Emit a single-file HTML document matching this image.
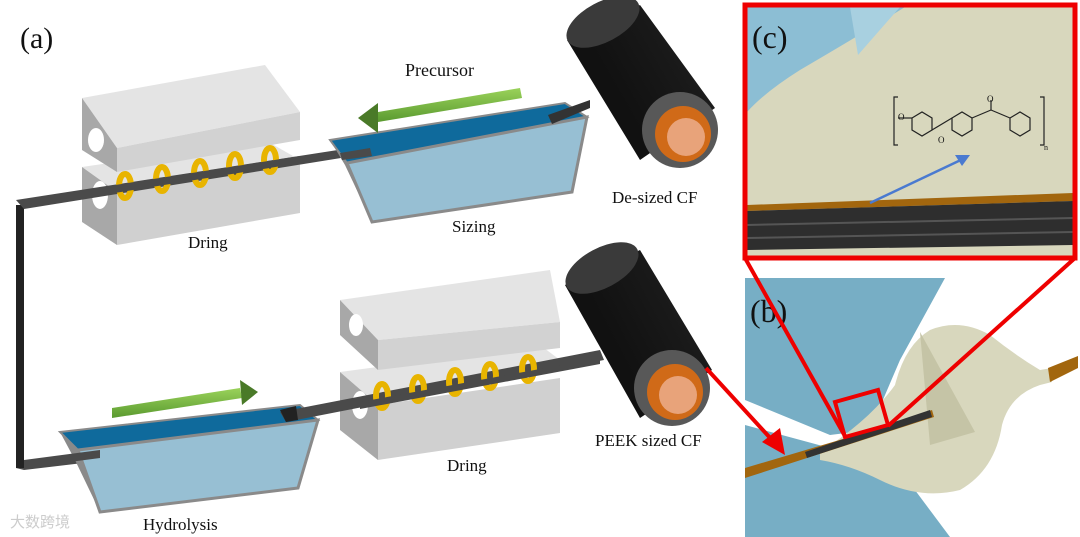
<!DOCTYPE html>
<html><head><meta charset="utf-8"><style>
body{margin:0;background:#fff}
svg{display:block}
text{font-family:"Liberation Serif",serif;fill:#111}
</style></head><body>
<svg width="1080" height="537" viewBox="0 0 1080 537" xmlns="http://www.w3.org/2000/svg">
<defs>
<linearGradient id="cyl" x1="0" y1="0" x2="1" y2="-0.6">
<stop offset="0" stop-color="#111"/><stop offset="0.4" stop-color="#1a1a1a"/><stop offset="0.75" stop-color="#3a3a3a"/><stop offset="1" stop-color="#666"/></linearGradient>
<linearGradient id="grn" x1="0" y1="0" x2="0" y2="1"><stop offset="0" stop-color="#9ad25a"/><stop offset="1" stop-color="#5a9a30"/></linearGradient>
</defs>
<text x="20" y="48" font-size="30">(a)</text>

<!-- top fiber path -->
<polygon points="16,468 100,453 100,461 24,470" fill="#4a4a4a"/>
<rect x="16" y="205" width="8" height="263" fill="#222"/>

<!-- top dring: bottom block -->
<polygon points="82,167 265,140 300,160 117,192" fill="#e4e4e4"/>
<polygon points="82,167 117,192 117,245 82,222" fill="#a8a8a8"/>
<polygon points="117,192 300,160 300,213 117,245" fill="#d0d0d0"/>
<ellipse cx="100" cy="195" rx="8" ry="14" fill="#fff"/>
<!-- fiber -->
<polygon points="16,200 370,145 372,153 24,209" fill="#4a4a4a"/>
<!-- top block -->
<polygon points="82,98 265,65 300,112 117,148" fill="#e4e4e4"/>
<polygon points="82,98 117,148 117,172 82,150" fill="#a8a8a8"/>
<ellipse cx="96" cy="140" rx="8" ry="12" fill="#fff"/>
<polygon points="117,148 300,112 300,140 117,172" fill="#d2d2d2"/>
<g fill="none" stroke="#e8b400" stroke-width="6">
<ellipse cx="125" cy="186" rx="6" ry="12"/><ellipse cx="162" cy="179" rx="6" ry="12"/><ellipse cx="200" cy="173" rx="6" ry="12"/><ellipse cx="235" cy="166" rx="6" ry="12"/><ellipse cx="270" cy="160" rx="6" ry="12"/></g>
<polygon points="90,189 300,156 300,163 90,197" fill="#4a4a4a"/>

<!-- sizing tank -->
<polygon points="330,140 565,103 587,117 347,163" fill="#0f6a9c" stroke="#8a8a8a" stroke-width="2"/>
<polygon points="330,140 347,163 372,222 345,165" fill="#8a8a8a"/>
<polygon points="347,163 587,117 572,192 372,222" fill="#97bfd3" stroke="#8a8a8a" stroke-width="3"/>
<polygon points="340,153 370,148 372,156 342,160" fill="#4a4a4a"/>
<polygon points="548,115 590,100 590,108 552,124" fill="#333"/>
<!-- top roller -->
<polygon points="567,40 640,5 715,108 640,160" fill="url(#cyl)"/>
<ellipse cx="603" cy="22" rx="40" ry="20" transform="rotate(-28 603 22)" fill="#3a3a3a"/>
<circle cx="680" cy="130" r="38" fill="#585858"/>
<circle cx="683" cy="134" r="28" fill="#d06a18"/>
<circle cx="686" cy="137" r="19" fill="#e8a37a"/>
<polygon points="378,112 520,88 522,98 378,122" fill="url(#grn)"/>
<polygon points="378,103 358,118 378,133" fill="#4a7a28"/>
<text x="405" y="76" font-size="18">Precursor</text>
<text x="612" y="203" font-size="17">De-sized CF</text>
<text x="188" y="248" font-size="17">Dring</text>
<text x="452" y="232" font-size="17">Sizing</text>

<!-- hydrolysis tank -->
<polygon points="60,432 300,405 318,420 78,450" fill="#0f6a9c" stroke="#8a8a8a" stroke-width="2"/>
<polygon points="78,450 318,420 298,488 100,512" fill="#97bfd3" stroke="#8a8a8a" stroke-width="3"/>
<polygon points="60,432 78,450 100,512 75,460" fill="#8a8a8a"/>
<polygon points="24,460 100,450 100,458 24,468" fill="#4a4a4a"/>
<polygon points="112,408 240,388 242,398 112,418" fill="url(#grn)"/>
<polygon points="240,380 258,392 242,405" fill="#4a7a28"/>
<text x="143" y="530" font-size="17">Hydrolysis</text>
<text x="10" y="527" font-size="15" style="fill:#ccc">大数跨境</text>

<!-- bottom dring -->
<polygon points="340,372 540,345 560,360 378,405" fill="#e4e4e4"/>
<polygon points="340,372 378,405 378,460 340,430" fill="#a8a8a8"/>
<ellipse cx="360" cy="405" rx="8" ry="14" fill="#fff"/>
<polygon points="378,405 560,378 560,433 378,460" fill="#d0d0d0"/>
<polygon points="280,412 600,350 604,360 286,422" fill="#4a4a4a"/>
<polygon points="280,410 296,406 298,420 286,422" fill="#222"/>
<polygon points="340,300 550,270 560,322 378,340" fill="#e4e4e4"/>
<polygon points="340,300 378,340 378,370 340,335" fill="#a8a8a8"/>
<ellipse cx="356" cy="325" rx="7" ry="11" fill="#fff"/>
<polygon points="378,340 560,322 560,348 378,370" fill="#d2d2d2"/>
<g fill="none" stroke="#e8b400" stroke-width="6">
<ellipse cx="382" cy="396" rx="6" ry="12"/><ellipse cx="418" cy="389" rx="6" ry="12"/><ellipse cx="455" cy="382" rx="6" ry="12"/><ellipse cx="490" cy="376" rx="6" ry="12"/><ellipse cx="528" cy="369" rx="6" ry="12"/></g>
<polygon points="360,402 600,358 600,364 360,409" fill="#4a4a4a"/>
<polygon points="565,285 640,250 712,370 640,418" fill="url(#cyl)"/>
<ellipse cx="602" cy="268" rx="40" ry="20" transform="rotate(-28 602 268)" fill="#3a3a3a"/>
<circle cx="672" cy="388" r="38" fill="#585858"/>
<circle cx="675" cy="392" r="28" fill="#d06a18"/>
<circle cx="678" cy="395" r="19" fill="#e8a37a"/>
<text x="595" y="446" font-size="17">PEEK sized CF</text>
<text x="447" y="471" font-size="17">Dring</text>

<!-- (b) panel -->
<rect x="745" y="278" width="335" height="259" fill="#fff"/>
<polygon points="745,278 945,278 900,360 870,430 830,435 745,400" fill="#77aec5"/>
<polygon points="745,425 830,448 900,470 950,537 745,537" fill="#77aec5"/>
<path d="M820,452 Q870,420 895,385 Q905,345 930,330 Q960,318 990,335 Q1015,355 1040,370 L1052,368 L1052,382 L1040,385 Q1010,395 1002,425 Q995,470 960,490 Q920,500 880,480 Q850,465 820,460 Z" fill="#d8d7bd"/>
<polygon points="920,332 930,445 975,432" fill="#c5c4a6"/>
<polygon points="745,468 900,422 932,410 934,417 745,478" fill="#a2660e"/>
<polygon points="805,452 930,410 932,417 807,458" fill="#333"/>
<polygon points="1048,368 1078,356 1078,368 1050,382" fill="#a2660e"/>
<polygon points="835,402 878,390 888,425 845,437" fill="none" stroke="#e00" stroke-width="4"/>
<text x="750" y="322" font-size="32">(b)</text>
<line x1="745" y1="258" x2="846" y2="438" stroke="#e00" stroke-width="4"/>
<line x1="1075" y1="258" x2="888" y2="426" stroke="#e00" stroke-width="4"/>
<line x1="706" y1="368" x2="772" y2="440" stroke="#e00" stroke-width="4"/>
<polygon points="785,455 762,442 780,428" fill="#e00"/>

<!-- (c) panel -->
<rect x="745" y="5" width="330" height="252" fill="#d8d7bd"/>
<path d="M747,7 L905,7 Q860,35 800,70 Q765,92 747,112 Z" fill="#8cbed4"/>
<polygon points="850,7 900,7 858,55" fill="#a8d0e0"/>
<polygon points="747,205 1073,193 1073,201 747,211" fill="#a2660e"/>
<polygon points="747,211 1073,201 1073,245 747,250" fill="#2e2e2e"/>
<line x1="747" y1="225" x2="1073" y2="218" stroke="#555" stroke-width="2"/>
<line x1="747" y1="238" x2="1073" y2="232" stroke="#555" stroke-width="2"/>
<line x1="870" y1="203" x2="965" y2="158" stroke="#4a7ad0" stroke-width="2.5"/>
<polygon points="970,155 955,155 962,166" fill="#4a7ad0"/>
<g fill="none" stroke="#222" stroke-width="1.2">
<path d="M898,97 L894,97 L894,145 L898,145"/><path d="M1040,97 L1044,97 L1044,145 L1040,145"/>
<polygon points="912,118 922,112 932,118 932,130 922,136 912,130"/>
<polygon points="952,118 962,112 972,118 972,130 962,136 952,130"/>
<polygon points="1010,118 1020,112 1030,118 1030,130 1020,136 1010,130"/>
<line x1="898" y1="118" x2="912" y2="118"/><line x1="932" y1="130" x2="952" y2="118"/><line x1="972" y1="118" x2="991" y2="110"/><line x1="991" y1="110" x2="1010" y2="118"/><line x1="991" y1="110" x2="991" y2="100"/>
</g>
<text x="898" y="120" font-size="9" font-family="Liberation Sans">O</text>
<text x="938" y="143" font-size="9" font-family="Liberation Sans">O</text>
<text x="987" y="102" font-size="9" font-family="Liberation Sans">O</text>
<text x="1044" y="150" font-size="8" font-family="Liberation Sans">n</text>
<text x="752" y="48" font-size="32">(c)</text>
<rect x="745" y="5" width="330" height="253" fill="none" stroke="#e00" stroke-width="5"/>
</svg>
</body></html>
